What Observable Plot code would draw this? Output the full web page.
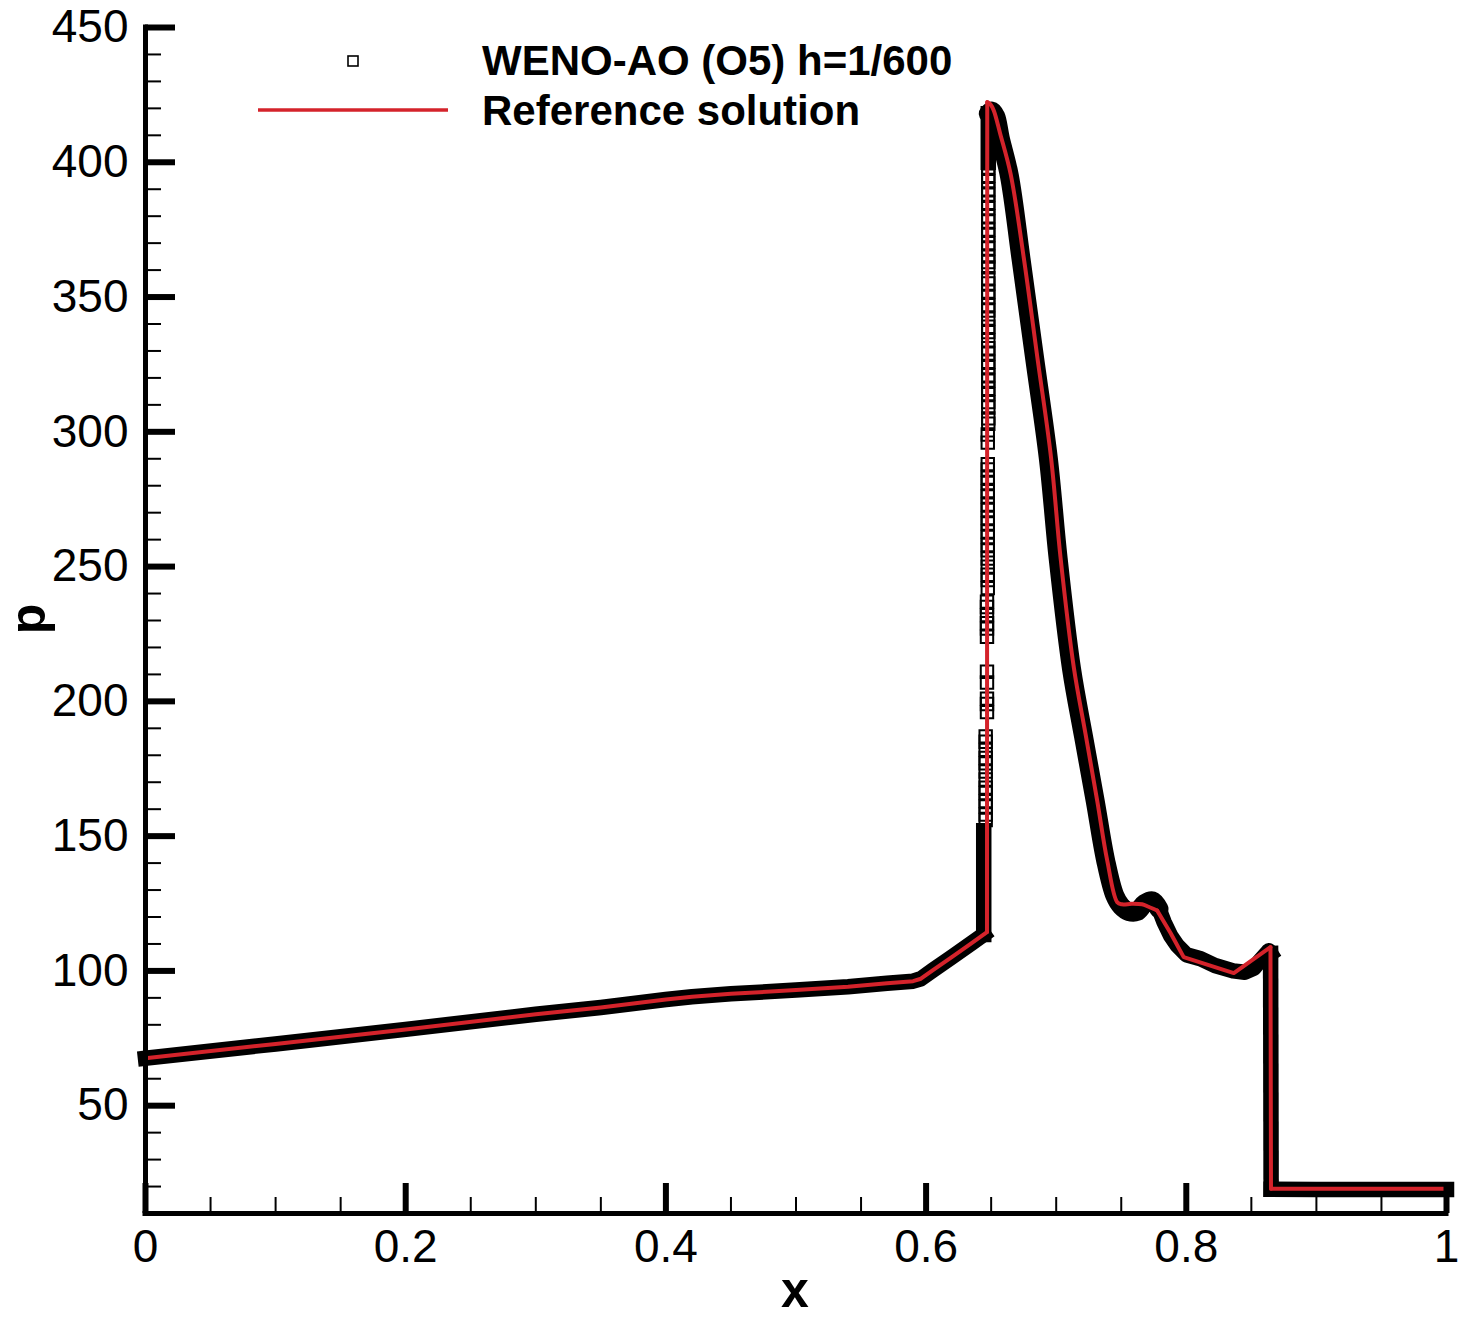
<!DOCTYPE html>
<html>
<head>
<meta charset="utf-8">
<script src="https://cdn.jsdelivr.net/npm/d3@7"></script>
<script src="https://cdn.jsdelivr.net/npm/@observablehq/plot@0.6"></script>
<style>
html, body { margin: 0; padding: 0; background: #fff; overflow: hidden; }
#wrap { position: relative; width: 1466px; height: 1319px; }
#wrap svg { display: block; }
#overlay { position: absolute; left: 0; top: 0; pointer-events: none; }
</style>
</head>
<body>
<div id="wrap"></div>
<script>
// ---------- data ----------
// Reference solution (red line); pieces: a smooth, b shock, c expansion (curved), c2 tail, d shock, e flat
const refX = [0, 0.1, 0.2, 0.3, 0.35, 0.4, 0.42, 0.45, 0.5, 0.54, 0.57, 0.59, 0.596, 0.605, 0.62, 0.635, 0.6468,
  0.6468, 0.647,
  0.647, 0.6495, 0.652, 0.657, 0.665, 0.675, 0.6855, 0.696, 0.7033, 0.7135, 0.7225, 0.7315, 0.7392, 0.7469,
  0.7505, 0.758, 0.766, 0.771, 0.7776,
  0.7776, 0.788, 0.798, 0.8365, 0.8647,
  0.8647, 0.8651,
  0.8651, 0.9, 1.0];
const refP = [67.6, 72.9, 78.3, 83.9, 86.4, 89.4, 90.4, 91.5, 92.9, 94.1, 95.4, 96.2, 97.1, 100.2, 105.2, 110.3, 114.4,
  114.4, 422.3,
  422.3, 421.5, 419.2, 410.5, 395.6, 364.8, 327.7, 290.6, 253.5, 212.7, 188.0, 163.2, 141.0, 125.5,
  124.7, 124.9, 124.7, 123.8, 122.4,
  122.4, 114.0, 105.1, 99.2, 108.8,
  108.8, 19.2,
  19.2, 19.2, 19.2];
const refPiece = ["a", "a", "a", "a", "a", "a", "a", "a", "a", "a", "a", "a", "a", "a", "a", "a", "a",
  "b", "b",
  "c", "c", "c", "c", "c", "c", "c", "c", "c", "c", "c", "c", "c", "c",
  "c", "c", "c", "c", "c",
  "c2", "c2", "c2", "c2", "c2",
  "d", "d",
  "e", "e", "e"];

// WENO-AO (O5) h=1/600 : band of densely overlapping markers
const wenoX = [0, 0.1, 0.2, 0.3, 0.35, 0.4, 0.42, 0.45, 0.5, 0.54, 0.57, 0.59, 0.596, 0.605, 0.62, 0.635, 0.6443,
  0.6443, 0.6443,
  0.6478, 0.6478,
  0.6478, 0.6505, 0.6535, 0.657, 0.664, 0.673, 0.6835, 0.694, 0.7015, 0.7118, 0.721, 0.730, 0.738, 0.745,
  0.75, 0.756, 0.762, 0.768, 0.774, 0.779,
  0.779, 0.783, 0.788, 0.793, 0.8, 0.811, 0.822, 0.836, 0.845, 0.852, 0.857, 0.8635, 0.8648,
  0.8648, 0.8652,
  0.8652, 0.9, 0.95, 1.0];
const wenoP = [67.6, 72.9, 78.3, 83.9, 86.4, 89.4, 90.4, 91.5, 92.9, 94.1, 95.4, 96.2, 97.1, 100.2, 105.2, 110.3, 113.5,
  113.5, 152,
  400, 418,
  418, 419, 417, 409, 395, 364, 327, 290, 253, 212, 187, 163, 141, 128,
  124, 122, 122, 125, 126, 123,
  123, 118, 113, 109.5, 106, 104.5, 102, 100, 99.5, 101, 104, 107.5, 106.5,
  106.5, 19,
  19, 18.9, 18.9, 18.9];
const wenoPiece = [1, 1, 1, 1, 1, 1, 1, 1, 1, 1, 1, 1, 1, 1, 1, 1, 1,
  2, 2,
  3, 3,
  4, 4, 4, 4, 4, 4, 4, 4, 4, 4, 4, 4, 4, 4,
  4, 4, 4, 4, 4, 4,
  7, 7, 7, 7, 7, 7, 7, 7, 7, 7, 7, 7, 7,
  5, 5,
  6, 6, 6, 6];

// WENO-AO markers standing apart across the shock at x ≈ 0.647 (grouped by their x)
const shockXs = [0.6458, 0.6468, 0.6474, 0.6478];
const shockP1 = [156, 158, 161, 163, 166, 168, 171, 174, 177, 179, 182, 185, 187];
const shockP2 = [196, 199, 201, 207, 211, 224, 227, 229, 232, 235, 237];
const shockP3 = [242, 245, 247, 250, 253, 256, 258, 261, 263, 266, 268, 271, 273, 276, 278, 281, 283, 286, 288, 296, 299];
const shockP4 = [303, 305, 309, 311, 314, 316, 319, 321, 324, 326, 329, 331, 334, 337, 339, 342, 345, 347, 350, 352,
  355, 357, 361, 363, 365, 368, 370, 373, 375, 378, 380, 383, 385, 388, 390, 393, 395, 398, 400, 403];

// axes
const xMajor = [0, 0.2, 0.4, 0.6, 0.8, 1];
const xMinor = [0.05, 0.1, 0.15, 0.25, 0.3, 0.35, 0.45, 0.5, 0.55, 0.65, 0.7, 0.75, 0.85, 0.9, 0.95];
const yMajor = [50, 100, 150, 200, 250, 300, 350, 400, 450];
const yMinor = [20, 30, 40, 60, 70, 80, 90, 110, 120, 130, 140, 160, 170, 180, 190, 210, 220, 230, 240,
  260, 270, 280, 290, 310, 320, 330, 340, 360, 370, 380, 390, 410, 420, 430, 440];
const xTitle = "x";
const yTitle = "p";
const seriesNames = ["WENO-AO (O5) h=1/600", "Reference solution"];

// ---------- build tables ----------
const ref = refX.map((x, i) => ({x, p: refP[i], piece: refPiece[i]}));
const weno = wenoX.map((x, i) => ({x, p: wenoP[i], piece: wenoPiece[i]}));
const shock = [shockP1, shockP2, shockP3, shockP4]
  .flatMap((ps, g) => ps.map(p => ({x: shockXs[g], p})));

const refCurved = ref.filter(d => d.piece === "c");
const refStraight = ref.filter(d => d.piece !== "c");
const wenoCurved = weno.filter(d => d.piece === 4);
const wenoStraight = weno.filter(d => d.piece !== 4);

const RED = "#d4232b";
const FONT = '"Liberation Sans", Arial, Helvetica, sans-serif';
const W = 1466, H = 1319;
const M = {top: 27, right: 20, bottom: 106, left: 145};

const bandStyle = {x: "x", y: "p", z: "piece", stroke: "black", strokeWidth: 15.5,
  strokeLinecap: "square", strokeLinejoin: "round"};
const refStyle = {x: "x", y: "p", z: "piece", stroke: RED, strokeWidth: 4,
  strokeLinecap: "round", strokeLinejoin: "round"};

const chart = Plot.plot({
  width: W, height: H,
  marginTop: M.top, marginRight: M.right, marginBottom: M.bottom, marginLeft: M.left,
  style: {fontFamily: FONT, fontSize: "46px", color: "black", background: "white"},
  x: {domain: [0, 1], label: null},
  y: {domain: [10, 450], label: null},
  marks: [
    Plot.line(wenoStraight, bandStyle),
    Plot.line(wenoCurved, {...bandStyle, strokeWidth: 19, strokeLinecap: "round", curve: "catmull-rom"}),
    Plot.dot(shock, {x: "x", y: "p", symbol: "square", r: 7, stroke: "black", fill: "none", strokeWidth: 2}),
    Plot.line(refStraight, refStyle),
    Plot.line(refCurved, {...refStyle, curve: "catmull-rom"}),
    Plot.axisY({ticks: yMinor, tickSize: -16, strokeWidth: 2, tickFormat: () => "", label: null}),
    Plot.axisY({ticks: yMajor, tickSize: -30, strokeWidth: 6, tickFormat: () => "", label: null}),
    Plot.axisY({ticks: yMajor, tickSize: 0, tickPadding: 17, fontSize: 46, tickFormat: d => String(d), label: null}),
    Plot.axisX({ticks: xMinor, tickSize: -16, strokeWidth: 2, tickFormat: () => "", label: null}),
    Plot.axisX({ticks: xMajor, tickSize: -30, strokeWidth: 6, tickFormat: () => "", label: null}),
    Plot.axisX({ticks: xMajor, tickSize: 0, tickPadding: 16, fontSize: 46, tickFormat: d => String(d), label: null}),
    Plot.ruleX([0], {strokeWidth: 5, strokeLinecap: "square"}),
    Plot.ruleY([10], {strokeWidth: 5, strokeLinecap: "square"})
  ]
});

const wrap = document.getElementById("wrap");
wrap.appendChild(chart);

// ---------- overlay: legend and axis titles ----------
const ov = d3.select(wrap).append("svg")
  .attr("id", "overlay").attr("width", W).attr("height", H)
  .style("font-family", FONT);

// legend
ov.append("rect").attr("x", 348).attr("y", 56).attr("width", 10).attr("height", 10)
  .attr("fill", "none").attr("stroke", "black").attr("stroke-width", 1.6);
ov.append("line").attr("x1", 258).attr("x2", 448).attr("y1", 110).attr("y2", 110)
  .attr("stroke", RED).attr("stroke-width", 3.5);
ov.append("text").attr("x", 482).attr("y", 75).attr("font-size", 42).attr("font-weight", "bold")
  .text(seriesNames[0]);
ov.append("text").attr("x", 482).attr("y", 125).attr("font-size", 42).attr("font-weight", "bold")
  .text(seriesNames[1]);

// axis titles
ov.append("text").attr("x", 795).attr("y", 1307).attr("text-anchor", "middle")
  .attr("font-size", 50).attr("font-weight", "bold").text(xTitle);
ov.append("text").attr("transform", "translate(45,619) rotate(-90)").attr("text-anchor", "middle")
  .attr("font-size", 50).attr("font-weight", "bold").text(yTitle);
</script>
</body>
</html>
